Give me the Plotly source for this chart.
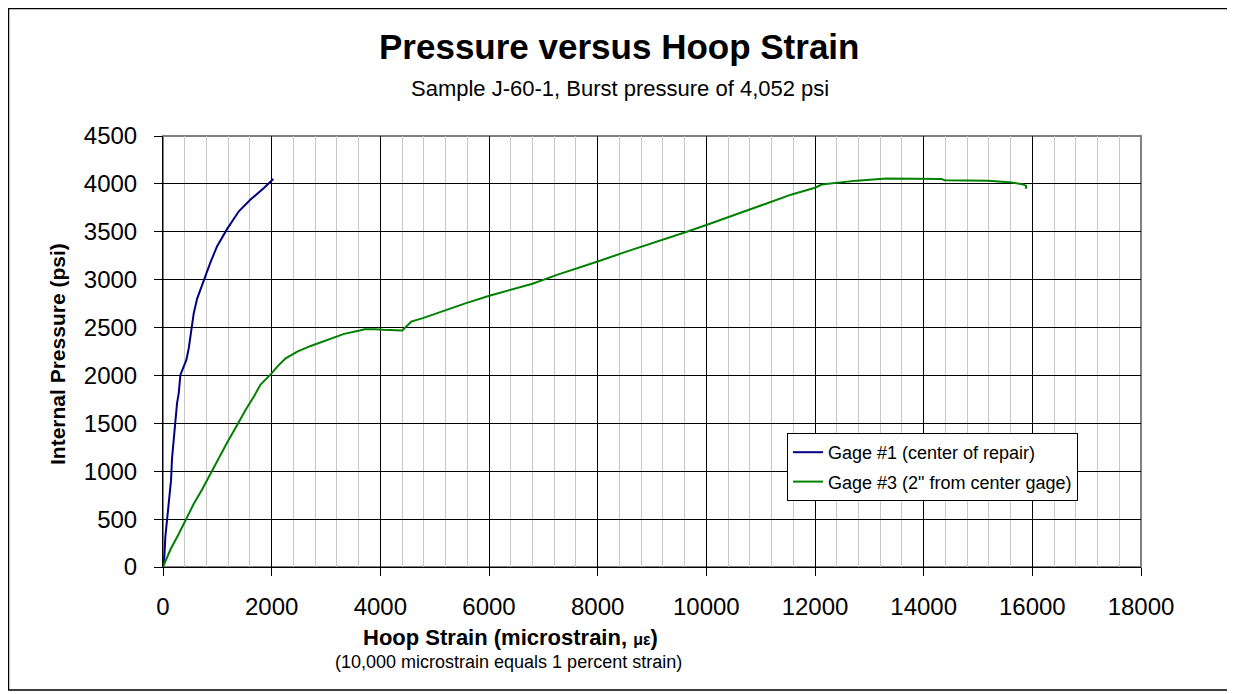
import plotly.graph_objects as go

# Gage #1 (center of repair)
blue_strain = [0, 25, 43, 74, 105, 148, 166, 197, 228, 258, 289, 320, 381, 430, 474,
               504, 535, 566, 627, 720, 781, 873, 996, 1181, 1396, 1611, 1857, 2030]
blue_pressure = [0, 105, 314, 506, 715, 907, 1133, 1325, 1517, 1709, 1813, 2005, 2092, 2162, 2284,
                 2406, 2493, 2650, 2800, 2945, 3030, 3180, 3350, 3530, 3714, 3836, 3958, 4052]

# Gage #3 (2" from center gage)
green_strain = [0, 135, 289, 443, 566, 720, 873, 1027, 1181, 1365, 1519, 1673, 1796, 1999,
                2103, 2257, 2472, 2718, 3026, 3333, 3620, 3712, 3900, 4048, 4404, 4569, 4782,
                5180, 5578, 6006, 6404, 6801, 7250, 7657, 8000, 8514, 9125, 9615, 10000,
                10533, 11083, 11572, 12000, 12122, 12306, 12460, 12765, 13315, 14019, 14324,
                14386, 15181, 15579, 15792, 15884, 15884]
green_pressure = [0, 180, 345, 520, 660, 810, 976, 1130, 1300, 1482, 1640, 1780, 1905, 2022,
                  2092, 2179, 2249, 2308, 2371, 2434, 2469, 2483, 2483, 2476, 2469, 2563, 2598,
                  2678, 2755, 2832, 2894, 2957, 3050, 3130, 3190, 3290, 3400, 3495, 3570,
                  3675, 3790, 3890, 3960, 3993, 4003, 4017, 4034, 4055, 4055, 4052,
                  4038, 4034, 4017, 4000, 3982, 3948]

x_ticks = [0, 2000, 4000, 6000, 8000, 10000, 12000, 14000, 16000, 18000]
y_ticks = [0, 500, 1000, 1500, 2000, 2500, 3000, 3500, 4000, 4500]

FONT = "Liberation Sans, Arial, sans-serif"

fig = go.Figure()
fig.add_trace(go.Scatter(x=blue_strain, y=blue_pressure, mode="lines",
                         name="Gage #1 (center of repair)", legendgroup="g1",
                         line=dict(color="#000080", width=2)))
fig.add_trace(go.Scatter(x=green_strain, y=green_pressure, mode="lines",
                         name="Gage #3 (2\" from center gage)", legendgroup="g3",
                         line=dict(color="#008000", width=2)))

# page has an 8px body margin; work in reference-pixel coordinates shifted by it
OFF = 8
W, H = 1235 - OFF, 694 - OFF
L, R, T, B = 163 - OFF, 94, 136 - OFF, 127
pw, ph = W - L - R, H - T - B

def px(xr):
    return (xr - OFF - L) / pw

def py(yr):
    return (H - B - (yr - OFF)) / ph

fig.update_layout(
    width=W, height=H,
    margin=dict(l=L, r=R, t=T, b=B, autoexpand=False),
    paper_bgcolor="white", plot_bgcolor="white",
    font=dict(family=FONT, color="black"),
    showlegend=True,
    legend=dict(x=px(787), y=py(433), xanchor="left", yanchor="top",
                bgcolor="white", bordercolor="black", borderwidth=1,
                font=dict(size=18, family=FONT), tracegroupgap=3,
                itemwidth=30),
    xaxis=dict(range=[0, 18000], tickvals=x_ticks, ticktext=[str(v) for v in x_ticks],
               showgrid=True, gridcolor="black", gridwidth=1,
               minor=dict(dtick=400, showgrid=True, gridcolor="#c8c8c8", gridwidth=1, ticks=""),
               showline=True, linecolor="black", linewidth=1,
               ticks="outside", ticklen=8, tickcolor="black",
               tickfont=dict(size=24, family=FONT), ticklabelstandoff=10,
               zeroline=False),
    yaxis=dict(range=[0, 4500], tickvals=y_ticks, ticktext=[str(v) for v in y_ticks],
               showgrid=True, gridcolor="black", gridwidth=1,
               showline=True, linecolor="black", linewidth=1,
               ticks="outside", ticklen=8, tickcolor="black",
               tickfont=dict(size=24, family=FONT), ticklabelstandoff=12,
               zeroline=False),
)

# plot area frame (gray) and outer chart border
fig.add_shape(type="rect", xref="paper", yref="paper", x0=0, x1=1, y0=0, y1=1,
              line=dict(color="#808080", width=2), layer="below")
fig.add_shape(type="rect", xref="paper", yref="paper",
              x0=px(8.5), x1=px(1233), y0=py(690), y1=py(8.5),
              line=dict(color="black", width=1.5), layer="below")

ann = [
    dict(text="<b>Pressure versus Hoop Strain</b>", x=px(619), y=py(47), size=35),
    dict(text="Sample J-60-1, Burst pressure of 4,052 psi", x=px(620), y=py(88), size=22),
    dict(text="<b>Hoop Strain (microstrain, <span style='font-size:16px'>με</span>)</b>",
         x=px(510), y=py(637), size=22),
    dict(text="(10,000 microstrain equals 1 percent strain)", x=px(508), y=py(662), size=18),
]
for a in ann:
    fig.add_annotation(text=a["text"], x=a["x"], y=a["y"], xref="paper", yref="paper",
                       xanchor="center", yanchor="middle", showarrow=False,
                       font=dict(size=a["size"], family=FONT, color="black"))

fig.add_annotation(text="<b>Internal Pressure (psi)</b>", x=px(57), y=py(354),
                   xref="paper", yref="paper", xanchor="center", yanchor="middle",
                   textangle=-90, showarrow=False,
                   font=dict(size=21, family=FONT, color="black"))

fig.write_html("out.html")
